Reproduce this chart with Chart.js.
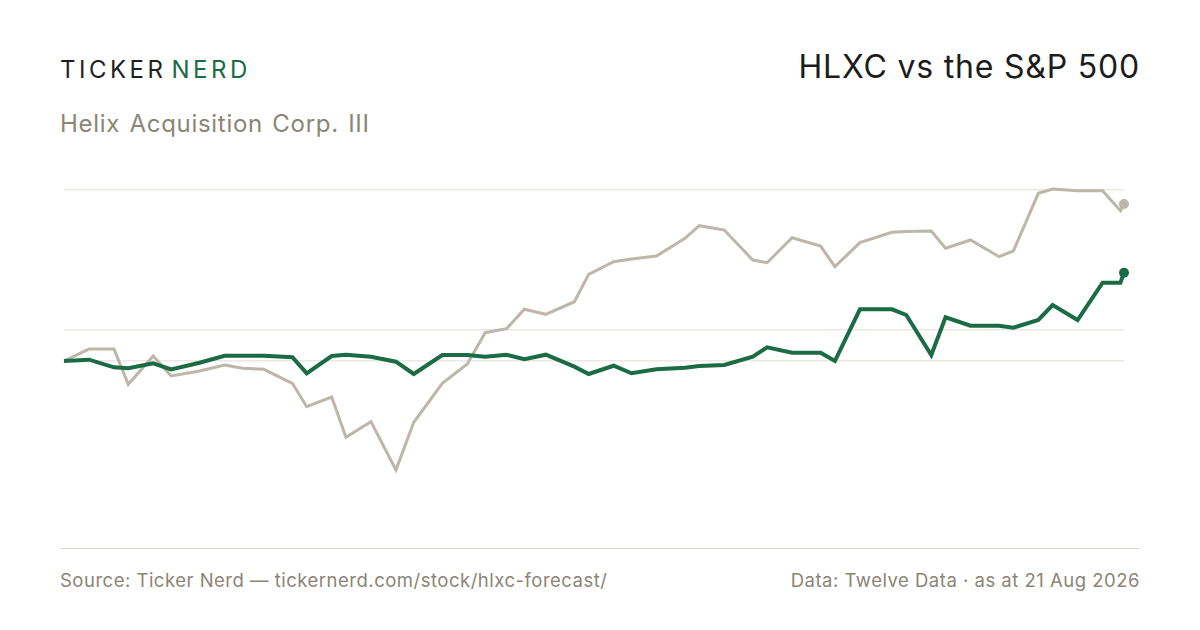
<!DOCTYPE html>
<html>
<head>
<meta charset="utf-8">
<script src="https://cdn.jsdelivr.net/npm/chart.js@4.4.1/dist/chart.umd.min.js"></script>
<style>
  html, body { margin: 0; padding: 0; background: #fff; }
  #page { position: relative; width: 1200px; height: 630px; overflow: hidden; font-family: Inter, "Noto Sans", sans-serif; }
  .txt { position: absolute; white-space: nowrap; line-height: 1; }
  #brand { left: 60px; top: 58px; font-size: 24px; letter-spacing: 3.5px; color: #1f1f1f; }
  #brand .nerd { color: #1b6b45; margin-left: 5px; }
  #sub { left: 60px; top: 112px; font-size: 24px; color: #8b8574; letter-spacing: 0.7px; word-spacing: 2px; }
  #title { right: 60px; top: 51px; font-size: 32px; color: #1c1c1c; letter-spacing: 0.8px; }
  #rule { position: absolute; left: 60px; top: 548px; width: 1080px; height: 1px; background: #dcd8cf; }
  .foot { top: 571px; font-size: 18.5px; color: #8b8574; letter-spacing: 0.5px; }
  #src { left: 60px; }
  #data { right: 60px; }
  #wrap { position: absolute; left: 54px; top: 170px; width: 1080px; height: 380px; }
</style>
</head>
<body>
<div id="page">
  <div class="txt" id="brand">TICKER<span class="nerd">NERD</span></div>
  <div class="txt" id="sub">Helix Acquisition Corp. III</div>
  <div class="txt" id="title">HLXC vs the S&amp;P 500</div>
  <div id="wrap"><canvas id="perf"></canvas></div>
  <div id="rule"></div>
  <div class="txt foot" id="src">Source: Ticker Nerd — tickernerd.com/stock/hlxc-forecast/</div>
  <div class="txt foot" id="data">Data: Twelve Data · as at 21 Aug 2026</div>
</div>
<script>
// days since start of the period
const days = [0, 7, 14, 18, 25, 30, 38, 45, 50, 56, 64, 68, 75, 79, 86, 93, 98, 106, 113, 118,
  124, 129, 135, 143, 147, 154, 159, 166, 174, 178, 185, 193, 197, 204, 212, 216, 223, 232, 236, 243,
  247, 254, 262, 266, 273, 277, 284, 291, 296, 297];

// % return since start
const hlxc = [0, 0.21, -1.0, -1.16, -0.37, -1.32, -0.27, 0.84, 0.84, 0.84, 0.59, -1.95, 0.79, 1.0, 0.68, -0.11, -2.06, 0.95, 0.95, 0.68,
  1.0, 0.27, 1.0, -0.9, -2.06, -0.75, -1.95, -1.32, -1.06, -0.79, -0.63, 0.68, 2.17, 1.32, 1.32, 0, 8.21, 8.21, 7.3, 0.95,
  6.94, 5.6, 5.6, 5.29, 6.51, 8.89, 6.51, 12.43, 12.43, 14.02];

const spx = [0, 1.9, 1.9, -3.7, 0.79, -2.38, -1.59, -0.63, -1.16, -1.32, -3.54, -7.25, -5.71, -12.11, -9.63, -17.3, -9.73, -3.54, -0.48, 4.49,
  5.13, 8.21, 7.41, 9.41, 13.76, 15.76, 16.19, 16.67, 19.48, 21.48, 20.79, 16.03, 15.6, 19.57, 18.25, 14.97, 18.8, 20.43, 20.54, 20.63,
  17.89, 19.21, 16.56, 17.46, 26.62, 27.3, 27.03, 27.03, 23.86, 24.92];

// horizontal guide lines
const gridValues = [0, 5, 27.25];

const pts = arr => arr.map((v, i) => ({ x: days[i], y: v }));
const lastDot = ctx => (ctx.dataIndex === days.length - 1 ? 5 : 0);

new Chart(document.getElementById('perf'), {
  type: 'line',
  data: {
    datasets: [{
      label: 'HLXC',
      data: pts(hlxc),
      borderColor: '#1b6b45',
      backgroundColor: '#1b6b45',
      borderWidth: 4,
      pointRadius: lastDot,
      pointBorderWidth: 0,
      tension: 0,
      order: 0
    }, {
      label: 'S&P 500',
      data: pts(spx),
      borderColor: '#bdb6aa',
      backgroundColor: '#bdb6aa',
      borderWidth: 3,
      pointRadius: lastDot,
      pointBorderWidth: 0,
      tension: 0,
      order: 1
    }]
  },
  options: {
    responsive: true,
    maintainAspectRatio: false,
    animation: false,
    clip: false,
    events: [],
    layout: { padding: { left: 10, right: 10, top: 10, bottom: 10 } },
    plugins: { legend: { display: false }, tooltip: { enabled: false } },
    scales: {
      x: {
        type: 'linear',
        display: false,
        min: 0,
        max: 297
      },
      y: {
        min: -28.41,
        max: 28.73,
        afterBuildTicks: axis => { axis.ticks = gridValues.map(v => ({ value: v })); },
        ticks: { display: false },
        border: { display: false },
        grid: { color: '#ebe8e2', lineWidth: 1.5, drawTicks: false }
      }
    }
  }
});
</script>
</body>
</html>
